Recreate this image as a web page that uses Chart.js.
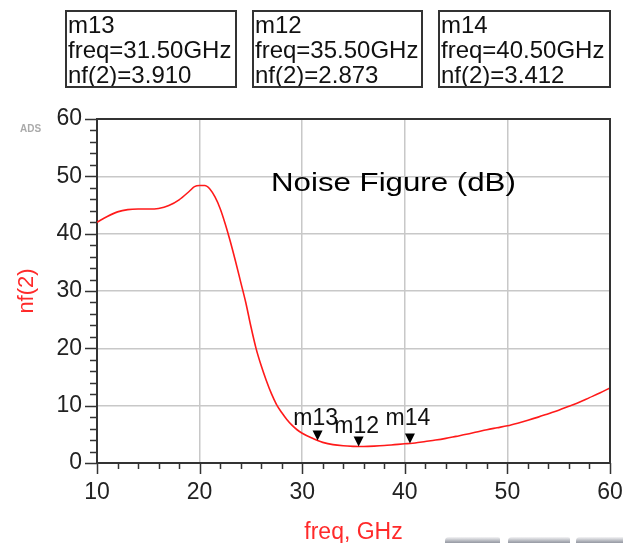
<!DOCTYPE html>
<html>
<head>
<meta charset="utf-8">
<script src="https://cdn.jsdelivr.net/npm/chart.js@4.4.1/dist/chart.umd.min.js"></script>
<style>
  html, body { margin: 0; padding: 0; background: #fff; }
  #wrap { position: relative; width: 623px; height: 543px; overflow: hidden; font-family: "Liberation Sans", Arial, sans-serif; }
  #nfChart { position: absolute; left: 0; top: 0; }
  .mbox { position: absolute; top: 10px; height: 78px; border: 2px solid #333; padding: 0 0 0 1px; box-sizing: border-box;
          font-size: 24px; line-height: 25px; color: #111; white-space: nowrap; overflow: hidden; }
  .title-txt { position: absolute; left: 271px; top: 168px; font-size: 25px; color: #000; white-space: nowrap;
               transform: scaleX(1.25); transform-origin: left top; }
  .ads { position: absolute; left: 20px; top: 123px; font-size: 10px; font-weight: bold; color: #aaa; }
  .smear { position: absolute; top: 537px; height: 10px; background: linear-gradient(#f2f2f4, #8a8e99 50%, #4a4f60); border-radius: 4px 2px 0 0; opacity: 0.8; }
</style>
</head>
<body>
<div id="wrap">
  <canvas id="nfChart" width="623" height="543"></canvas>
  <div id="boxes"></div>
  <div class="title-txt">Noise Figure (dB)</div>
  <div class="ads">ADS</div>
  <div class="smear" style="left:445px;width:55px;"></div>
  <div class="smear" style="left:508px;width:62px;"></div>
  <div class="smear" style="left:576px;width:50px;"></div>
</div>
<script>
// noise figure sweep nf(2) vs freq (GHz)
const freqGHz = [10, 11, 12, 13, 14, 15, 16, 17, 18, 19, 19.5, 20, 20.5, 21, 21.5, 22, 22.5, 23, 23.5, 24,
                 24.5, 25, 25.5, 26, 26.5, 27, 27.5, 28, 28.5, 29, 29.5, 30, 31, 31.5, 32, 33, 34, 35, 35.5, 36,
                 37, 38, 39, 40, 40.5, 41, 42, 43, 44, 45, 46, 47, 48, 49, 50, 51, 52, 53, 54, 55,
                 56, 57, 58, 59, 60];
const nfValues = [42.0, 43.0, 43.8, 44.2, 44.3, 44.3, 44.4, 44.9, 45.9, 47.4, 48.2, 48.4, 48.4, 47.8, 46.4, 44.4, 41.7, 38.6, 35.2, 31.6,
                  28.0, 23.8, 20.0, 17.0, 14.4, 12.1, 10.2, 8.8, 7.6, 6.6, 5.8, 5.2, 4.3, 3.91, 3.6, 3.2, 3.0, 2.9, 2.873, 2.88,
                  2.95, 3.05, 3.2, 3.35, 3.412, 3.5, 3.75, 4.0, 4.3, 4.65, 5.0, 5.4, 5.8, 6.15, 6.5, 6.95, 7.45, 8.0, 8.6, 9.2,
                  9.9, 10.6, 11.4, 12.2, 13.1];

// markers
const markerNames = ['m13', 'm12', 'm14'];
const markerFreq = [31.5, 35.5, 40.5];
const markerNf = [3.910, 2.873, 3.412];
const markerLabelDy = [-16, -14, -18];

const xTicks = [10, 20, 30, 40, 50, 60];
const yTicks = [0, 10, 20, 30, 40, 50, 60];

// marker readout boxes
const boxLeft = [65, 252, 438];
const boxWidth = [172, 171, 173];
const boxes = document.getElementById('boxes');
markerNames.forEach((name, i) => {
    const d = document.createElement('div');
    d.className = 'mbox';
    d.style.left = boxLeft[i] + 'px';
    d.style.width = boxWidth[i] + 'px';
    d.innerHTML = `${name}<br>freq=${markerFreq[i].toFixed(2)}GHz<br>nf(2)=${markerNf[i].toFixed(3)}`;
    boxes.appendChild(d);
});

const axisColor = '#333';
const gridColor = '#c8c8c8';

// frame on top/right, minor ticks, marker triangles + names
const extrasPlugin = {
    id: 'extras',
    afterDatasetsDraw(chart) {
        const { ctx, chartArea: a, scales: { x, y } } = chart;
        ctx.save();
        ctx.strokeStyle = axisColor;
        ctx.lineWidth = 2;
        ctx.beginPath();
        ctx.moveTo(a.left, a.top); ctx.lineTo(a.right, a.top); ctx.lineTo(a.right, a.bottom);
        ctx.stroke();

        ctx.lineWidth = 1.5;
        ctx.beginPath();
        for (let v = 10; v <= 60; v += 2) {
            const px = Math.round(x.getPixelForValue(v)) + 0.5;
            const len = v % 10 === 0 ? 11 : 6;
            ctx.moveTo(px, a.bottom); ctx.lineTo(px, a.bottom + len);
        }
        for (let v = 0; v <= 60; v += 2) {
            const py = Math.round(y.getPixelForValue(v)) + 0.5;
            const len = v % 10 === 0 ? 12 : 7;
            ctx.moveTo(a.left, py); ctx.lineTo(a.left - len, py);
        }
        ctx.stroke();

        ctx.font = '23px "Liberation Sans", Arial, sans-serif';
        ctx.textAlign = 'center';
        ctx.textBaseline = 'alphabetic';
        markerFreq.forEach((f, i) => {
            const px = x.getPixelForValue(f);
            const py = y.getPixelForValue(markerNf[i]);
            ctx.fillStyle = '#000';
            ctx.beginPath();
            ctx.moveTo(px - 5, py - 10);
            ctx.lineTo(px + 5, py - 10);
            ctx.lineTo(px, py);
            ctx.closePath();
            ctx.fill();
            ctx.fillStyle = '#111';
            ctx.fillText(markerNames[i], px - 2, py + markerLabelDy[i]);
        });
        ctx.restore();
    }
};

new Chart(document.getElementById('nfChart'), {
    type: 'line',
    data: {
        datasets: [{
            label: 'nf(2)',
            data: freqGHz.map((f, i) => ({ x: f, y: nfValues[i] })),
            borderColor: '#ff1a1a',
            borderWidth: 1.6,
            pointRadius: 0,
            cubicInterpolationMode: 'monotone',
            fill: false
        }]
    },
    options: {
        responsive: false,
        animation: false,
        devicePixelRatio: 1,
        layout: { padding: { left: 0, right: 13, top: 119, bottom: 0 } },
        plugins: { legend: { display: false }, tooltip: { enabled: false } },
        scales: {
            x: {
                type: 'linear',
                min: 10, max: 60,
                afterBuildTicks: s => { s.ticks = xTicks.map(v => ({ value: v })); },
                afterFit: s => { s.height = 80; s.paddingLeft = 0; s.paddingRight = 0; },
                grid: {
                    drawTicks: false,
                    lineWidth: 1.5,
                    color: c => (c.tick && (c.tick.value === 10 || c.tick.value === 60)) ? 'rgba(0,0,0,0)' : gridColor
                },
                border: { display: true, color: axisColor, width: 2 },
                ticks: { color: '#222', font: { size: 23, family: '"Liberation Sans", Arial, sans-serif' }, padding: 16, maxRotation: 0 },
                title: { display: true, text: 'freq, GHz', color: '#ff2a2a', font: { size: 23, family: '"Liberation Sans", Arial, sans-serif', lineHeight: 0.9 }, padding: { top: 0, bottom: 0 } }
            },
            y: {
                min: 0, max: 60,
                afterBuildTicks: s => { s.ticks = yTicks.map(v => ({ value: v })); },
                afterFit: s => { s.width = 97; s.paddingTop = 0; s.paddingBottom = 0; },
                grid: {
                    drawTicks: false,
                    lineWidth: 1.5,
                    color: c => (c.tick && (c.tick.value === 0 || c.tick.value === 60)) ? 'rgba(0,0,0,0)' : gridColor
                },
                border: { display: true, color: axisColor, width: 2 },
                ticks: { color: '#222', font: { size: 23, family: '"Liberation Sans", Arial, sans-serif' }, padding: 15 },
                title: { display: true, text: 'nf(2)', color: '#ff2a2a', font: { size: 22, family: '"Liberation Sans", Arial, sans-serif', lineHeight: 1.2 }, padding: { top: 14, bottom: 0 } }
            }
        }
    },
    plugins: [extrasPlugin]
});
</script>
</body>
</html>
